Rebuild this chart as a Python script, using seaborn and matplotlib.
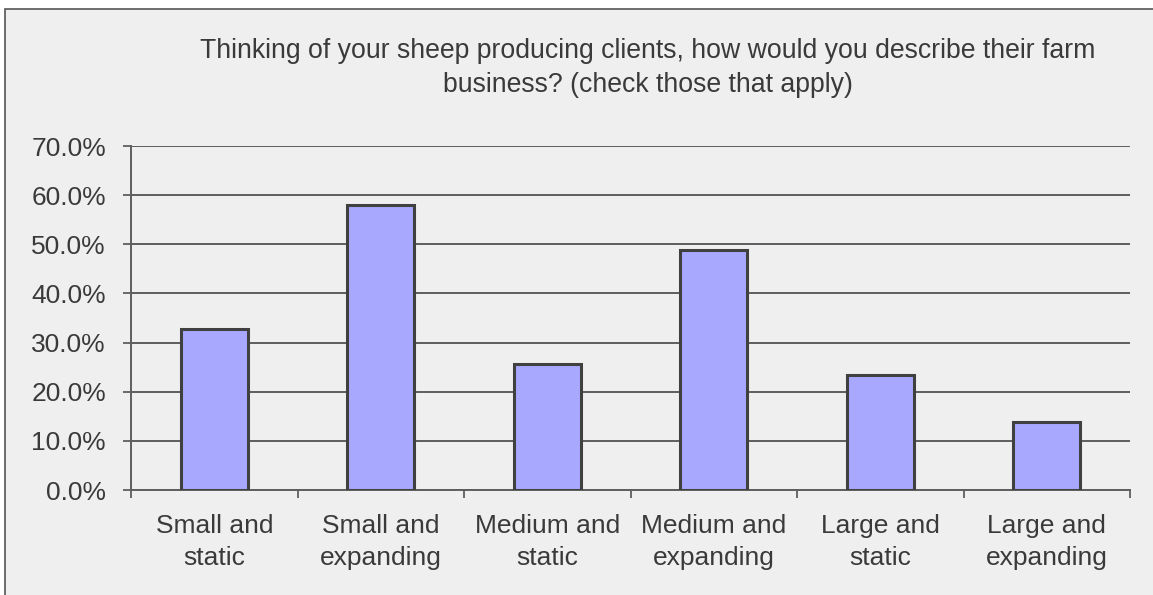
import matplotlib
matplotlib.use("Agg")
import matplotlib.pyplot as plt
from matplotlib.patches import Rectangle
from matplotlib.ticker import FixedLocator
import seaborn as sns
import pandas as pd

categories = ["Small and\nstatic", "Small and\nexpanding", "Medium and\nstatic",
              "Medium and\nexpanding", "Large and\nstatic", "Large and\nexpanding"]
shares = [32.7, 58.0, 25.6, 48.8, 23.3, 13.9]
y_ticks = [0, 10, 20, 30, 40, 50, 60, 70]
title = ("Thinking of your sheep producing clients, how would you describe their farm\n"
         "business? (check those that apply)")

df = pd.DataFrame({"category": categories, "share": shares})

sns.set_theme(style="white")
plt.rcParams["font.family"] = ["Liberation Sans", "DejaVu Sans"]

text_col = "#3a3a3a"
line_col = "#5e5e5e"
bg = "#efefef"

fig = plt.figure(figsize=(11.53, 5.95), dpi=100, facecolor="white")
W, H = 1153, 595
# chart area frame, drawn behind the axes
frame = Rectangle((5 / W, -0.1), 1.2, 1 - 9 / H + 0.1, transform=fig.transFigure,
                  facecolor=bg, edgecolor="#555555", linewidth=1.2, zorder=-5)
fig.patches.append(frame)

ax = fig.add_axes([131 / W, 1 - 490 / H, (1130 - 131) / W, (490 - 146) / H])
ax.set_zorder(2)
ax.patch.set_alpha(0)

sns.barplot(data=df, x="category", y="share", ax=ax, color="#a8a8ff", saturation=1,
            width=0.4, edgecolor="#404040", linewidth=2.2, zorder=3)

ax.set_ylim(0, 70)
ax.set_xlim(-0.5, len(categories) - 0.5)
ax.set_yticks(y_ticks)
ax.set_yticklabels([f"{v:.1f}%" for v in y_ticks])
ax.yaxis.grid(True, color=line_col, linewidth=1.4, zorder=1)
ax.set_axisbelow(True)

ax.xaxis.set_minor_locator(FixedLocator([i - 0.5 for i in range(len(categories) + 1)]))
ax.tick_params(axis="x", which="major", length=0, pad=17, labelsize=19, labelcolor=text_col)
ax.tick_params(axis="x", which="minor", length=6, width=1.3, color=line_col, direction="out",
               bottom=True)
ax.tick_params(axis="y", which="major", length=6, width=1.3, color=line_col, direction="out",
               left=True, pad=12, labelsize=19, labelcolor=text_col)
for lbl in ax.get_xticklabels():
    lbl.set_linespacing(1.42)

for side in ["top", "right"]:
    ax.spines[side].set_visible(False)
for side in ["left", "bottom"]:
    ax.spines[side].set_color(line_col)
    ax.spines[side].set_linewidth(1.4)

ax.set_xlabel("")
ax.set_ylabel("")

fig.text(648 / W, 1 - 68 / H, title, ha="center", va="center", fontsize=19.2,
         color=text_col, linespacing=1.38)

fig.savefig("out.png", dpi=100, facecolor=fig.get_facecolor())
